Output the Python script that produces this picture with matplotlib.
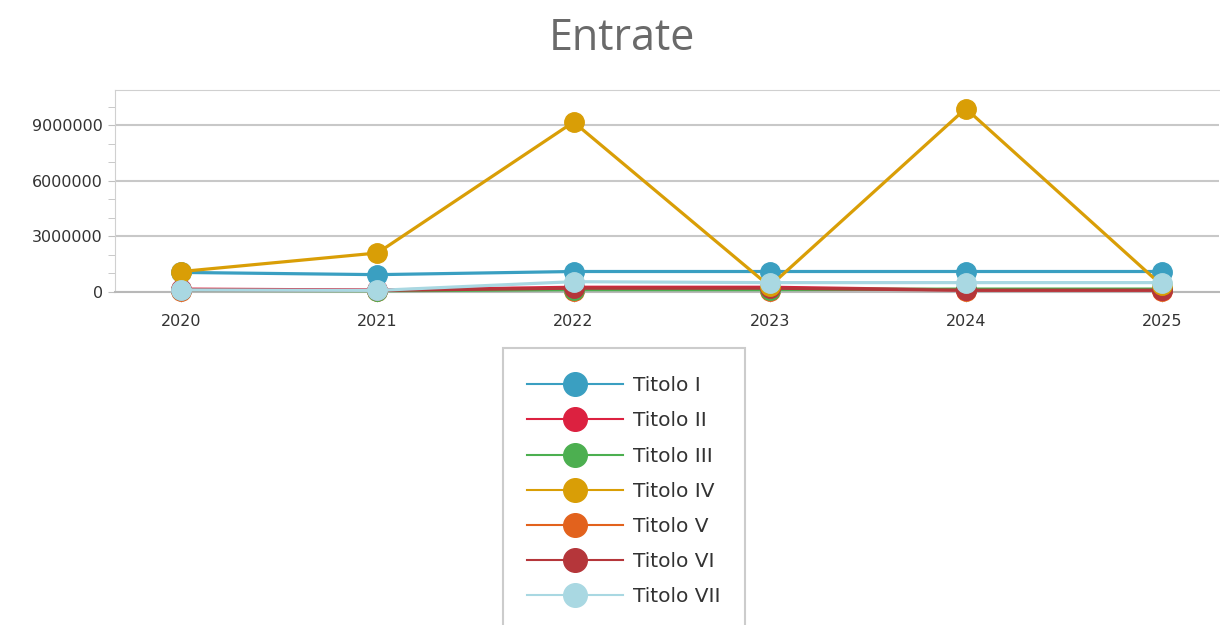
import numpy as np
import matplotlib.pyplot as plt
from matplotlib.lines import Line2D
from matplotlib.patches import Rectangle
from matplotlib.ticker import MultipleLocator

# dati
anni = ['2020', '2021', '2022', '2023', '2024', '2025']
titolo_1 = [1050000, 930000, 1100000, 1100000, 1100000, 1100000]
titolo_2 = [150000, 100000, 250000, 250000, 100000, 100000]
titolo_3 = [80000, 60000, 120000, 120000, 150000, 150000]
titolo_4 = [1100000, 2100000, 9170000, 300000, 9900000, 350000]
titolo_5 = [50000, 40000, 60000, 60000, 60000, 60000]
titolo_6 = [100000, 80000, 200000, 200000, 90000, 90000]
titolo_7 = [100000, 80000, 550000, 500000, 500000, 500000]

nomi = ['Titolo I', 'Titolo II', 'Titolo III', 'Titolo IV', 'Titolo V', 'Titolo VI', 'Titolo VII']
serie = [titolo_1, titolo_2, titolo_3, titolo_4, titolo_5, titolo_6, titolo_7]
colori = ['#3a9fc1', '#dc2140', '#4caf50', '#d99e06', '#e2621d', '#b5363a', '#a9d8e2']
# ordine di disegno
ordine_z = [4, 3, 3, 5, 2, 3, 6]

fig = plt.figure(figsize=(12.2, 6.25), dpi=100)
ax = fig.add_axes([0.094, 0.533, 0.905, 0.323])

x = np.arange(len(anni))
maniglie = []
for nome, val, col, z in zip(nomi, serie, colori, ordine_z):
    ax.plot(x, val, color=col, lw=2.3, marker='o', markersize=14,
            markeredgecolor=col, zorder=z, clip_on=False)
    # voce di legenda: linea sottile, pallino grande
    maniglie.append(Line2D([], [], color=col, lw=1.5, marker='o', markersize=17,
                           markeredgecolor=col, label=nome))

ax.set_xlim(-0.34, 5.29)
ax.set_ylim(0, 10900000)
ax.set_xticks(x)
ax.set_xticklabels(anni)
ax.yaxis.set_major_locator(MultipleLocator(3000000))
ax.yaxis.set_minor_locator(MultipleLocator(1000000))
ax.ticklabel_format(axis='y', style='plain')
ax.grid(True, axis='y', color='#c8c8c8', lw=1.5)
ax.set_axisbelow(True)

ax.spines['right'].set_visible(False)
ax.spines['top'].set_color('#d0d0d0')
ax.spines['left'].set_color('#d0d0d0')
ax.spines['bottom'].set_color('#b8b8b8')
ax.spines['bottom'].set_linewidth(1.5)
ax.tick_params(axis='x', colors='#c0c0c0', labelcolor='#333333', labelsize=11.5, length=7, pad=9)
ax.tick_params(axis='y', which='both', colors='#c0c0c0', labelcolor='#333333', labelsize=11.5, length=5)

fig.text(0.51, 0.938, 'Entrate', ha='center', va='center', fontsize=31,
         color='#6a6a6a', family='Open Sans')

# cornice della legenda (tagliata in basso come nell'originale)
fig.patches.append(Rectangle((0.4123, -0.05), 0.1984, 0.4932, transform=fig.transFigure,
                             fill=False, edgecolor='#cccccc', lw=1.5))

leg = fig.legend(handles=maniglie, loc='upper center', bbox_to_anchor=(0.511, 0.430),
                 fontsize=14.5, handlelength=4.8, labelspacing=0.8,
                 frameon=False, borderpad=1.0, handletextpad=0.45,
                 borderaxespad=0)
for t in leg.get_texts():
    t.set_color('#333333')

fig.savefig('out.png', dpi=100)
